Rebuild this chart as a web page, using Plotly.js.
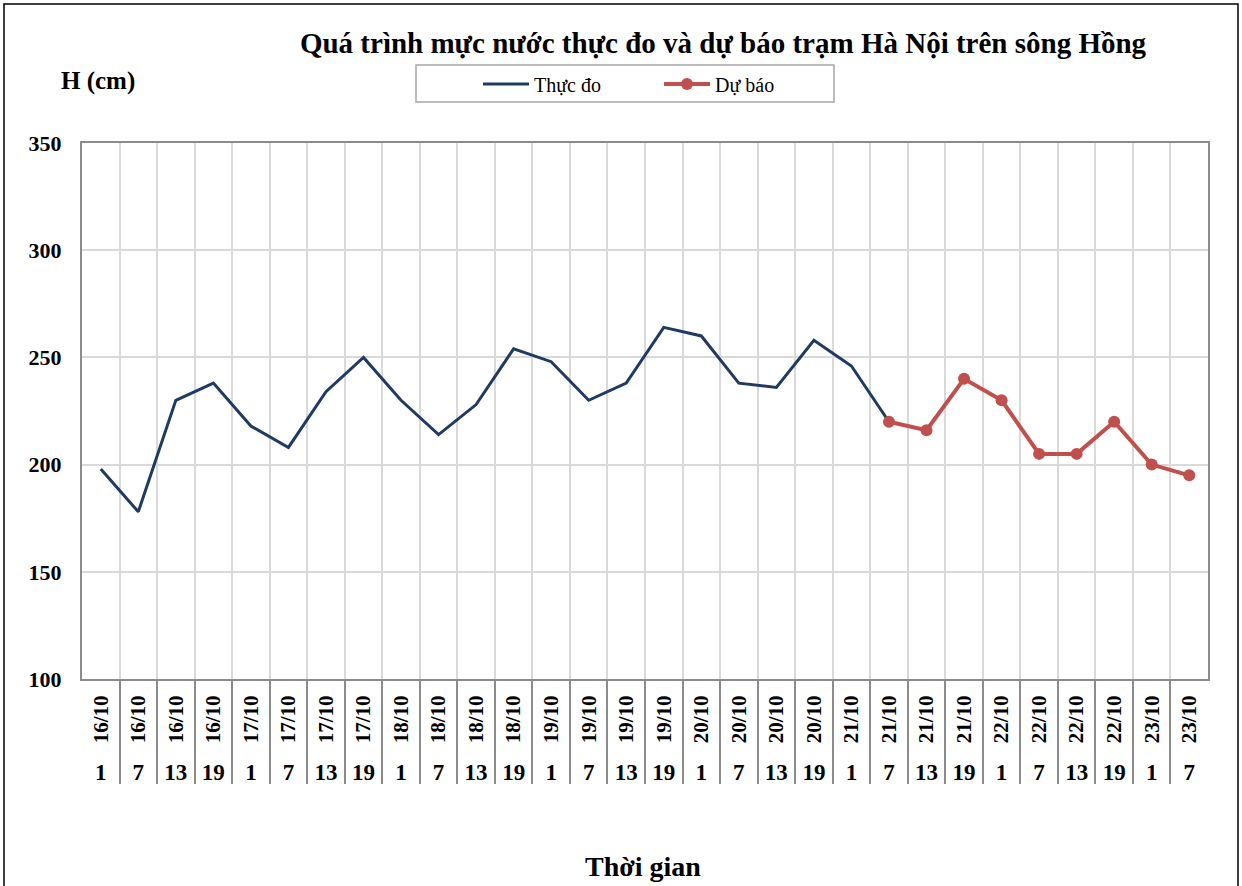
<!DOCTYPE html>
<html>
<head>
<meta charset="utf-8">
<script src="https://cdn.plot.ly/plotly-3.0.1.min.js"></script>
<style>html,body{margin:0;padding:0;background:#fff;}#chart{width:1242px;height:886px;}</style>
</head>
<body>
<div id="chart"></div>
<script>
// ---- data ----
const dates = ["16/10","16/10","16/10","16/10","17/10","17/10","17/10","17/10",
  "18/10","18/10","18/10","18/10","19/10","19/10","19/10","19/10",
  "20/10","20/10","20/10","20/10","21/10","21/10","21/10","21/10",
  "22/10","22/10","22/10","22/10","23/10","23/10"];
const hours = ["1","7","13","19","1","7","13","19","1","7","13","19","1","7","13","19",
  "1","7","13","19","1","7","13","19","1","7","13","19","1","7"];
const actualLevels = [198,178,230,238,218,208,234,250,230,214,228,254,248,230,238,264,260,238,236,258,246,220];
const forecastStart = 21; // forecast begins at 21/10 7h
const forecastLevels = [220,216,240,230,205,205,220,200,195];

const seriesNames = ["Thực đo","Dự báo"];
const chartTitle = "Quá trình mực nước thực đo và dự báo trạm Hà Nội trên sông Hồng";
const yTitle = "H (cm)";
const xTitle = "Thời gian";

// ---- layout helpers ----
const W = 1242, H = 886;
const PL = 82, PR = 1208;          // plot area left/right (px)
const PT = 143, PLOT_B = 679, PAPER_B = 784; // top, plot bottom, paper bottom
const px2x = p => (p - PL) / (PR - PL);
const py2y = p => (PAPER_B - p) / (PAPER_B - PT);

const cats = dates.map((d, i) => d + " " + hours[i]);
const serif = '"Liberation Serif", "Times New Roman", serif';
const navy = "#1F3B63", red = "#C0504D", gridC = "#D9D9D9", axC = "#8C8C8C";
const allY = actualLevels.concat(forecastLevels.slice(1));

const traces = [
  {x: cats.slice(0, actualLevels.length), y: actualLevels, type: "scatter", mode: "lines",
   name: seriesNames[0], line: {color: navy, width: 3}, xaxis: "x", yaxis: "y"},
  {x: cats.slice(forecastStart, forecastStart + forecastLevels.length), y: forecastLevels,
   type: "scatter", mode: "lines+markers", name: seriesNames[1],
   line: {color: red, width: 4}, marker: {color: red, size: 12}, xaxis: "x", yaxis: "y"},
  // helper traces so the overlay axes know the categories
  {x: cats, y: allY, type: "scatter", mode: "lines", line: {width: 0}, opacity: 0,
   hoverinfo: "skip", showlegend: false, xaxis: "x2", yaxis: "y"},
  {x: cats, y: allY, type: "scatter", mode: "lines", line: {width: 0}, opacity: 0,
   hoverinfo: "skip", showlegend: false, xaxis: "x3", yaxis: "y"}
];

const ydom0 = (PAPER_B - PLOT_B) / (PAPER_B - PT);

const layout = {
  width: W, height: H,
  margin: {l: PL, r: W - PR, t: PT, b: H - PAPER_B, pad: 0},
  paper_bgcolor: "#fff", plot_bgcolor: "#fff",
  font: {family: serif, color: "#000"},
  showlegend: true,
  title: {text: chartTitle, font: {family: serif, size: 29, weight: "bold", color: "#000"},
          xref: "paper", x: px2x(723), xanchor: "center", yref: "container", y: 1 - 43 / H, yanchor: "middle"},
  xaxis: {type: "category", range: [-0.5, cats.length - 0.5], anchor: "y",
          tickmode: "array", tickvals: cats, ticktext: dates, tickangle: -90,
          tickfont: {family: serif, size: 21, weight: "bold", color: "#000"},
          ticks: "", ticklabelstandoff: 6,
          showgrid: true, gridcolor: gridC, gridwidth: 2, tickson: "boundaries",
          showline: true, mirror: true, linecolor: axC, linewidth: 2, zeroline: false,
          automargin: false, fixedrange: true},
  xaxis2: {type: "category", range: [-0.5, cats.length - 0.5], overlaying: "x", anchor: "y", side: "bottom",
           tickmode: "array", tickvals: cats, ticktext: hours, tickangle: 0,
           tickfont: {family: serif, size: 23, weight: "bold", color: "#000"},
           ticks: "", ticklabelstandoff: 77, showgrid: false, showline: false, zeroline: false,
           automargin: false, fixedrange: true},
  xaxis3: {type: "category", range: [-0.5, cats.length - 0.5], overlaying: "x", anchor: "free", position: 0,
           side: "bottom", ticks: "inside", ticklen: PAPER_B - PLOT_B - 2, tickwidth: 2, tickcolor: axC,
           tickson: "boundaries", showticklabels: false, showgrid: false, showline: false, zeroline: false,
           automargin: false, fixedrange: true},
  yaxis: {range: [100, 350], dtick: 50, tick0: 100, domain: [ydom0, 1],
          tickfont: {family: serif, size: 22, weight: "bold", color: "#000"},
          ticks: "", ticklabelstandoff: 14,
          showgrid: true, gridcolor: gridC, gridwidth: 2,
          showline: true, mirror: true, linecolor: axC, linewidth: 2, zeroline: false,
          automargin: false, fixedrange: true},
  legend: {orientation: "h", x: px2x(478), xanchor: "left", y: py2y(84), yanchor: "middle",
           bgcolor: "rgba(0,0,0,0)", borderwidth: 0, itemwidth: 46, entrywidth: 120, entrywidthmode: "pixels",
           font: {family: serif, size: 20, color: "#000"}, traceorder: "normal"},
  annotations: [
    {text: yTitle, xref: "paper", yref: "paper", x: px2x(98), y: py2y(81), xanchor: "center", yanchor: "middle",
     showarrow: false, font: {family: serif, size: 25, weight: "bold", color: "#000"}},
    {text: xTitle, xref: "paper", yref: "paper", x: px2x(643), y: py2y(866), xanchor: "center", yanchor: "middle",
     showarrow: false, font: {family: serif, size: 28, weight: "bold", color: "#000"}}
  ],
  shapes: [
    {type: "rect", xref: "paper", yref: "paper", x0: px2x(416), x1: px2x(834), y0: py2y(102), y1: py2y(65),
     line: {color: "#A6A6A6", width: 1.5}, fillcolor: "rgba(0,0,0,0)", layer: "above"},
    {type: "rect", xref: "paper", yref: "paper", x0: px2x(4), x1: px2x(1238), y0: py2y(892), y1: py2y(4),
     line: {color: "#000", width: 1.5}, fillcolor: "rgba(0,0,0,0)", layer: "above"}
  ]
};

Plotly.newPlot("chart", traces, layout, {displayModeBar: false, staticPlot: true});
</script>
</body>
</html>
